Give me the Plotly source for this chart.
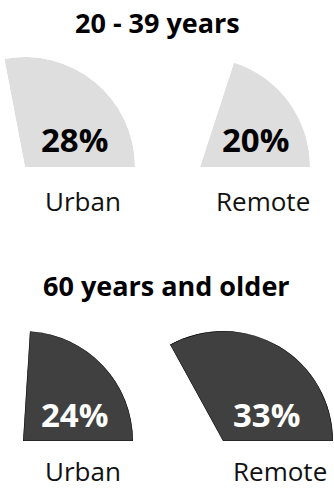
import numpy as np
import plotly.graph_objects as go

# Share of each age group living in urban vs remote areas (percent)
groups = ["20 - 39 years", "60 years and older"]
areas = ["Urban", "Remote"]
share_20_39 = [28, 20]
share_60_plus = [24, 33]

W, H = 334, 489
FONT = "Open Sans"

# Layout: wedge origins (pixels from top-left) and common radius
R = 110
origins = [[(25, 167), (200, 167)], [(23, 441), (223, 441)]]
title_pos = [(157, 22), (166, 285)]
pct_pos = [[(74, 139), (255, 139)], [(74, 414), (266, 414)]]
label_pos = [[(83, 201), (263, 201)], [(83, 471), (280, 471)]]

styles = [
    dict(fill="#dedede", line="#dedede", lw=0, text="#000000"),
    dict(fill="#404040", line="#111111", lw=1.2, text="#ffffff"),
]


def px(x, y):
    return x / W, 1 - y / H


def sector_domain(theta, cx, cy):
    # bounding box of a sector [0, theta] including its origin, in units of R
    t = np.deg2rad(theta)
    xmin = min(0.0, np.cos(t))
    ymax = 1.0 if theta >= 90 else np.sin(t)
    x0 = (cx + xmin * R) / W
    x1 = (cx + R) / W
    y0 = (H - cy) / H
    y1 = (H - cy + ymax * R) / H
    return dict(x=[max(0, x0), min(1, x1)], y=[max(0, y0), min(1, y1)])


fig = go.Figure()
annotations = []
polar_layouts = {}
k = 0
for g, values in enumerate([share_20_39, share_60_plus]):
    st = styles[g]
    tx, ty = px(*title_pos[g])
    annotations.append(dict(x=tx, y=ty, xref="paper", yref="paper", text="<b>" + groups[g] + "</b>",
                            showarrow=False, xanchor="center", yanchor="middle",
                            font=dict(family=FONT, size=27, color="#000000")))
    for a, v in enumerate(values):
        k += 1
        name = "polar" if k == 1 else f"polar{k}"
        theta = v * 3.6
        cx, cy = origins[g][a]
        fig.add_trace(go.Barpolar(
            r=[1], theta=[theta / 2], width=[theta],
            marker=dict(color=st["fill"], line=dict(color=st["line"], width=st["lw"])),
            subplot=name, hoverinfo="skip", showlegend=False,
        ))
        polar_layouts[name] = dict(
            domain=sector_domain(theta, cx, cy),
            sector=[0, theta],
            bgcolor="rgba(0,0,0,0)",
            hole=0,
            bargap=0,
            radialaxis=dict(visible=False, range=[0, 1]),
            angularaxis=dict(visible=False, rotation=0, direction="counterclockwise"),
        )
        x, y = px(*pct_pos[g][a])
        annotations.append(dict(x=x, y=y, xref="paper", yref="paper", text=f"<b>{v}%</b>",
                                showarrow=False, xanchor="center", yanchor="middle",
                                font=dict(family=FONT, size=33, color=st["text"])))
        x, y = px(*label_pos[g][a])
        annotations.append(dict(x=x, y=y, xref="paper", yref="paper", text=areas[a],
                                showarrow=False, xanchor="center", yanchor="middle",
                                font=dict(family=FONT, size=26, color="#111111")))

fig.update_layout(
    width=W, height=H,
    margin=dict(l=0, r=0, t=0, b=0),
    paper_bgcolor="#ffffff",
    plot_bgcolor="#ffffff",
    annotations=annotations,
    **polar_layouts,
)

fig.write_html("out.html", config=dict(displayModeBar=False))
